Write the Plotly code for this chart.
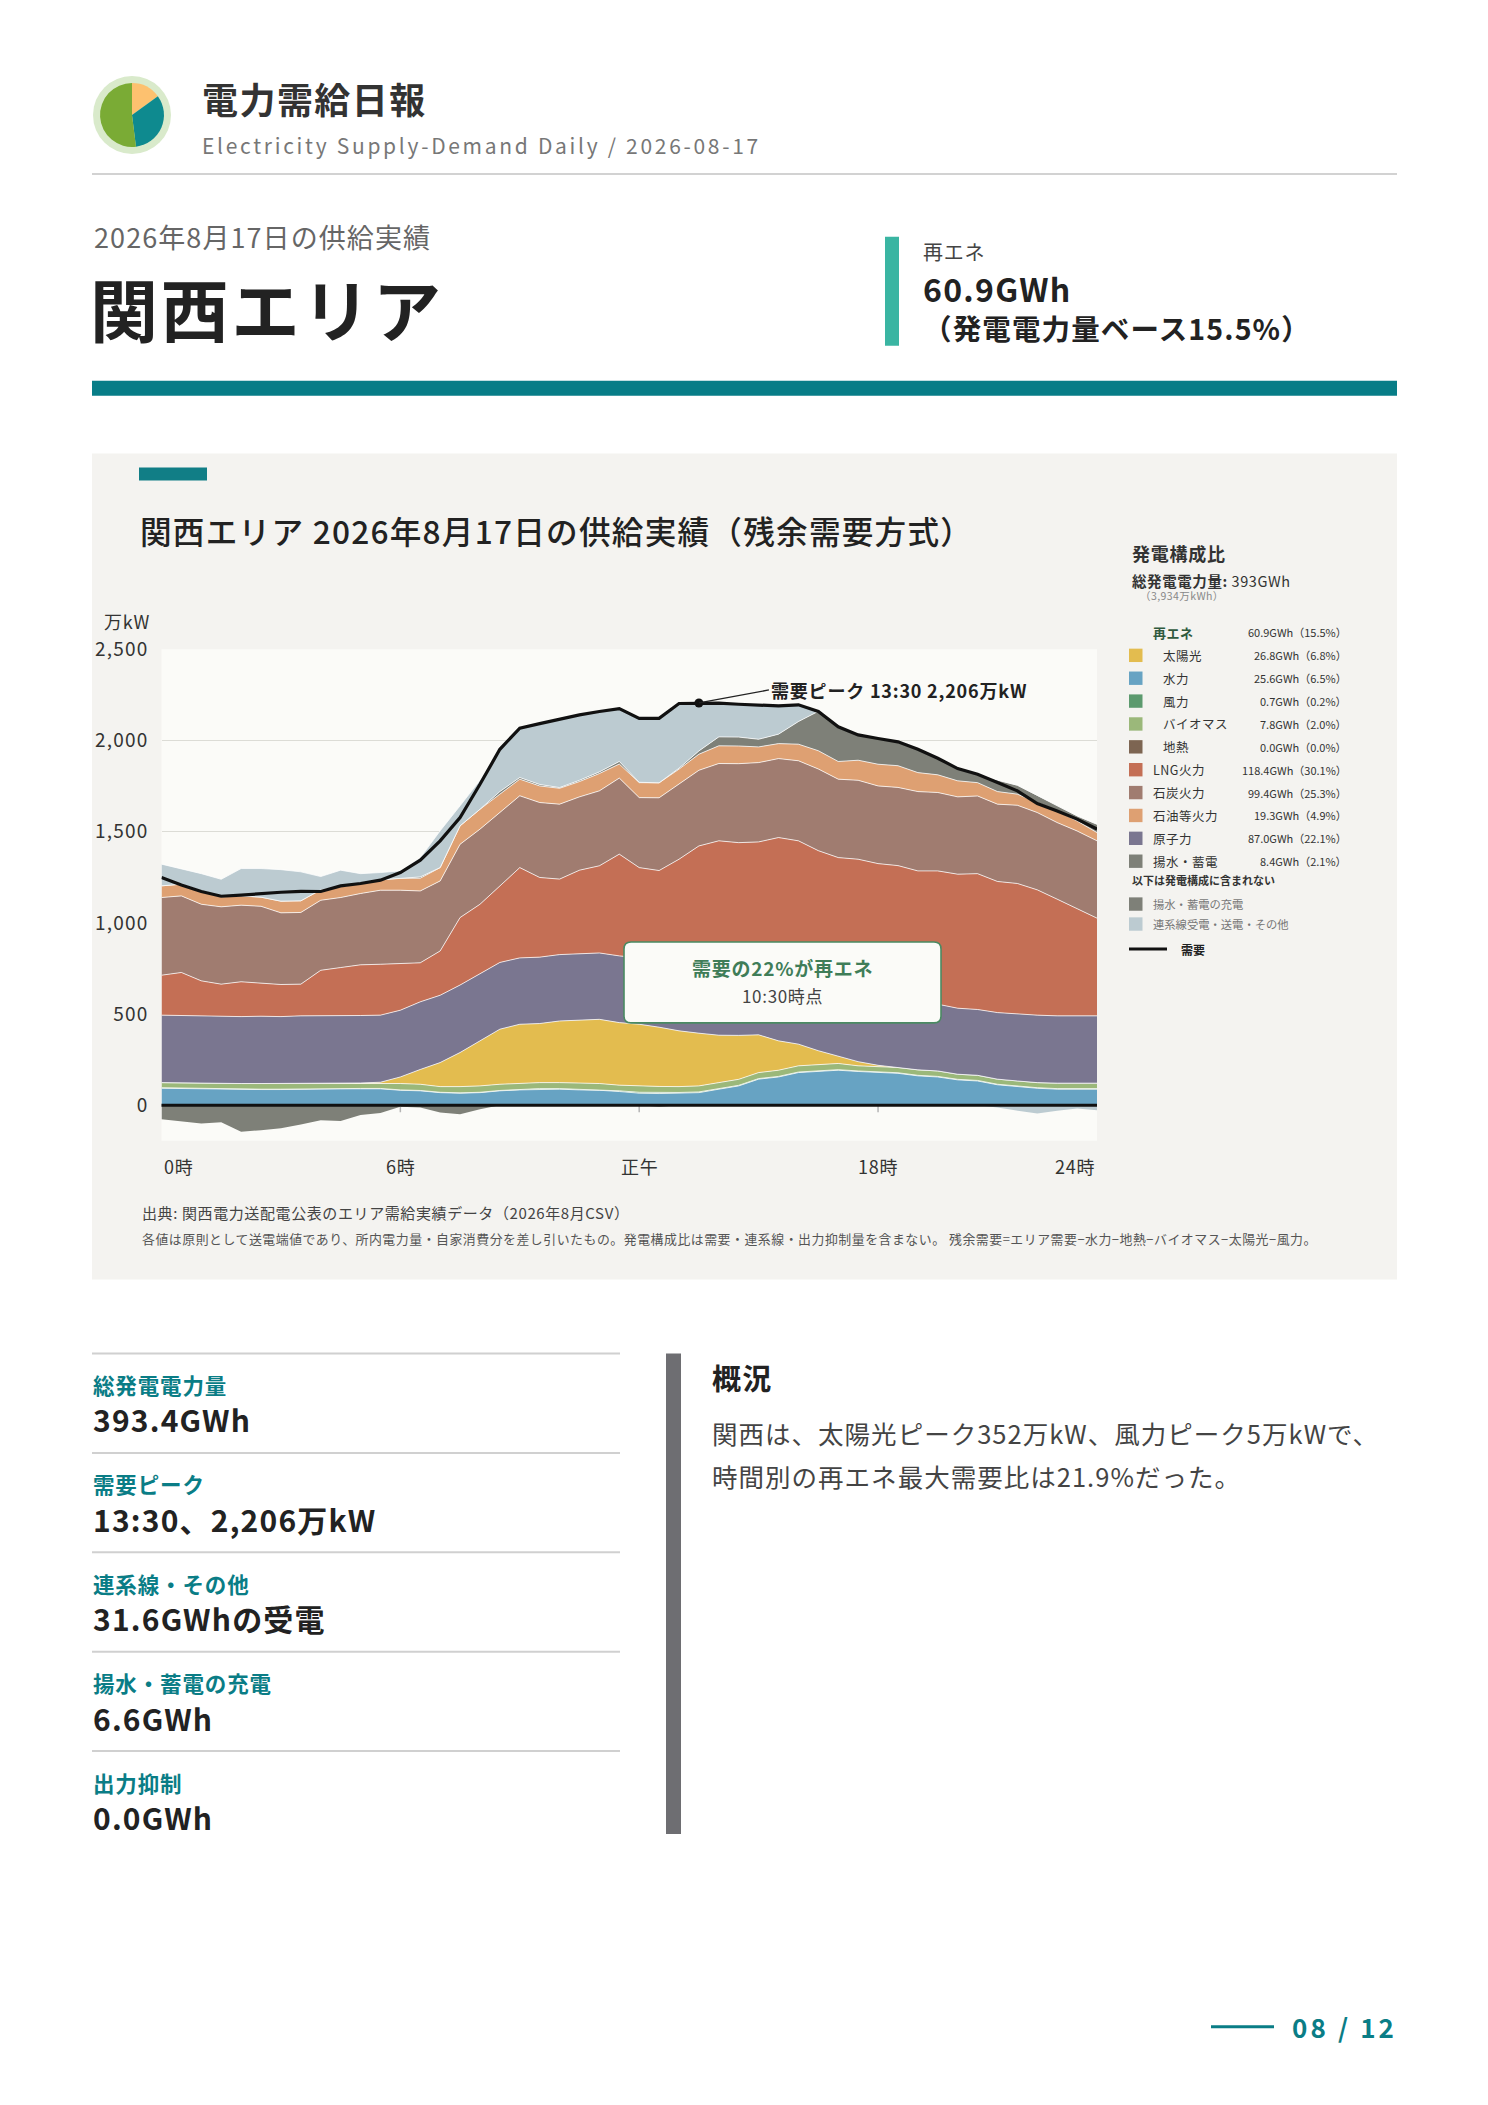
import plotly.graph_objects as go

W, H = 1488, 2105
FONT = "Noto Sans CJK JP"

# --- data (万kW, 30-min steps) ---
hours = [0, 0.5, 1, 1.5, 2, 2.5, 3, 3.5, 4, 4.5, 5, 5.5,
         6, 6.5, 7, 7.5, 8, 8.5, 9, 9.5, 10, 10.5, 11, 11.5,
         12, 12.5, 13, 13.5, 14, 14.5, 15, 15.5, 16, 16.5, 17, 17.5,
         18, 18.5, 19, 19.5, 20, 20.5, 21, 21.5, 22, 22.5, 23, 23.5]

hydro = [93, 91, 88, 86, 86, 86, 86, 88, 90, 90, 90, 90,
         82, 79, 69, 66, 69, 79, 84, 88, 88, 84, 82, 75,
         66, 64, 66, 69, 88, 106, 143, 155, 179, 185, 192, 185,
         179, 175, 161, 155, 139, 133, 112, 102, 93, 88, 88, 88]
wind = [3, 3, 3, 2, 2, 2, 2, 2, 2, 2, 2, 2,
        2, 2, 2, 2, 2, 2, 3, 3, 3, 3, 4, 4,
        5, 5, 4, 4, 4, 3, 3, 3, 3, 3, 3, 3,
        3, 3, 3, 3, 3, 3, 3, 3, 3, 3, 3, 3]
biomass = [28, 28, 30, 31, 31, 31, 31, 31, 30, 30, 30, 30,
           35, 34, 31, 34, 35, 34, 34, 33, 33, 34, 33, 31,
           34, 34, 32, 33, 32, 33, 33, 34, 34, 34, 34, 28,
           30, 29, 30, 30, 28, 28, 28, 28, 28, 30, 30, 30]
solar = [0, 0, 0, 0, 0, 0, 0, 0, 0, 0, 0, 4,
         36, 81, 132, 187, 247, 302, 323, 324, 338, 347, 352, 343,
         339, 325, 306, 289, 260, 241, 207, 161, 119, 77, 42, 23,
         7, 1, 0, 0, 0, 0, 0, 0, 0, 0, 0, 0]
nuclear = [370, 370, 367, 365, 367, 369, 367, 369, 370, 370, 370, 368,
           366, 371, 369, 370, 369, 366, 364, 364, 364, 364, 364, 366,
           365, 369, 369, 370, 370, 370, 369, 369, 369, 369, 369, 370,
           371, 369, 369, 366, 362, 361, 365, 366, 370, 369, 369, 369]
lng = [219, 236, 194, 180, 191, 183, 176, 174, 248, 263, 278, 279,
       256, 214, 243, 370, 380, 420, 495, 437, 414, 457, 478, 558,
       494, 490, 572, 657, 696, 687, 689, 746, 746, 728, 718, 740,
       735, 737, 722, 731, 735, 745, 719, 717, 687, 640, 590, 536]
coal = [426, 420, 420, 424, 420, 420, 393, 393, 384, 384, 391, 406,
        402, 394, 384, 402, 412, 402, 394, 411, 411, 402, 411, 417,
        384, 399, 411, 415, 424, 433, 435, 433, 439, 448, 430, 433,
        426, 429, 435, 430, 424, 426, 424, 429, 424, 420, 424, 424]
oil = [64, 64, 73, 55, 51, 50, 64, 64, 57, 58, 55, 57,
       66, 70, 73, 101, 109, 101, 91, 91, 87, 84, 95, 77,
       82, 82, 83, 88, 97, 97, 86, 82, 91, 100, 97, 110,
       119, 119, 104, 97, 88, 73, 69, 61, 55, 64, 55, 45]
pumped = [0, 0, 0, 0, 0, 0, 0, 0, 0, 0, 0, 0,
          0, 7, 0, 0, 0, 14, 9, 8, 4, 7, 9, 14,
          2, 0, 5, 18, 49, 49, 42, 52, 124, 216, 190, 139,
          141, 132, 128, 91, 67, 45, 63, 49, 40, 31, 28, 46]
ic_recv = [119, 86, 95, 96, 150, 157, 173, 159, 73, 92, 54, 40,
           40, 105, 202, 110, 159, 232, 271, 334, 375, 359, 331, 287,
           353, 364, 355, 265, 185, 179, 187, 155, 92, 0, 0, 0,
           0, 0, 0, 0, 0, 0, 0, 0, 0, 0, 0, 0]
charge = [-77, -90, -100, -93, -146, -137, -126, -106, -82, -86, -54, -42,
          -9, -13, -40, -49, -22, 0, 0, 0, 0, 0, 0, 0,
          0, -8, 0, 0, 0, 0, 0, 0, 0, 0, 0, 0,
          0, 0, 0, 0, 0, 0, 0, 0, 0, 0, 0, 0]
ic_send = [0, 0, 0, 0, 0, 0, 0, 0, 0, 0, 0, 0,
           0, 0, 0, 0, 0, 0, 0, 0, 0, 0, 0, 0,
           0, 0, 0, 0, 0, 0, 0, 0, 0, 0, 0, 0,
           0, 0, 0, 0, 0, 0, -13, -31, -46, -31, -18, -27]
demand = [1249, 1208, 1172, 1146, 1152, 1161, 1168, 1173, 1172, 1203, 1216, 1234,
          1276, 1344, 1450, 1578, 1760, 1952, 2068, 2093, 2117, 2141, 2159, 2175,
          2121, 2122, 2203, 2206, 2205, 2199, 2194, 2190, 2196, 2159, 2075, 2031,
          2011, 1993, 1952, 1903, 1846, 1815, 1770, 1724, 1654, 1614, 1569, 1514]

y_ticks = [0, 500, 1000, 1500, 2000, 2500]
x_ticks = [0, 6, 12, 18, 23.5]
x_ticktext = ["0時", "6時", "正午", "18時", "24時"]

legend_names = ["太陽光", "水力", "風力", "バイオマス", "地熱",
                "LNG火力", "石炭火力", "石油等火力", "原子力", "揚水・蓄電"]
legend_gwh = [26.8, 25.6, 0.7, 7.8, 0.0, 118.4, 99.4, 19.3, 87.0, 8.4]
legend_pct = [6.8, 6.5, 0.2, 2.0, 0.0, 30.1, 25.3, 4.9, 22.1, 2.1]
legend_indent = [True, True, True, True, True, False, False, False, False, False]

summary_labels = ["総発電電力量", "需要ピーク", "連系線・その他", "揚水・蓄電の充電", "出力抑制"]
summary_values = ["393.4GWh", "13:30、2,206万kW", "31.6GWhの受電", "6.6GWh", "0.0GWh"]

logo_shares = [15, 33, 52]

C = {
    "太陽光": "#e3bc4f", "水力": "#67a3c3", "風力": "#5c9a6e", "バイオマス": "#9bb87a",
    "地熱": "#7d6552", "LNG火力": "#c46f55", "石炭火力": "#a07c70", "石油等火力": "#dea072",
    "原子力": "#7a7690", "揚水・蓄電": "#7e8078", "連系線": "#bccbd1",
}
TEAL = "#0a7d86"


def X(px):
    return px / W


def Y(py):
    # page layout y (px from top) -> paper coords, with a small vertical calibration
    return 1 - (1.006 * py - 16) / H


def sp(text, px):
    return f'<span style="letter-spacing:{px:.2f}px">{text}</span>'


shapes = []
annotations = []


def rect(x0, y0, x1, y1, color, layer="below"):
    shapes.append(dict(type="rect", xref="paper", yref="paper",
                       x0=X(x0), x1=X(x1), y0=Y(y1), y1=Y(y0),
                       fillcolor=color, line_width=0, layer=layer))


def hline(x0, x1, y, color, width):
    shapes.append(dict(type="line", xref="paper", yref="paper",
                       x0=X(x0), x1=X(x1), y0=Y(y), y1=Y(y),
                       line=dict(color=color, width=width), layer="below"))


def label(x, y, text, size, color="#222", anchor="left", weight=None, ls=0.04):
    f = dict(size=size, color=color, family=FONT)
    if weight:
        f["weight"] = weight
    if ls:
        text = sp(text, ls * size)
    annotations.append(dict(xref="paper", yref="paper", x=X(x), y=Y(y), text=text,
                            showarrow=False, xanchor=anchor, yanchor="middle", font=f))


fig = go.Figure()

# stacked areas (positive)
pos_layers = [("水力", hydro), ("風力", wind), ("バイオマス", biomass), ("太陽光", solar),
              ("原子力", nuclear), ("LNG火力", lng), ("石炭火力", coal), ("石油等火力", oil),
              ("揚水・蓄電", pumped), ("連系線", ic_recv)]
for name, vals in pos_layers:
    fig.add_trace(go.Scatter(
        x=hours, y=vals, name=name, stackgroup="pos", mode="lines",
        line=dict(color="rgba(255,255,255,0.75)", width=1),
        fillcolor=C[name], hoverinfo="skip", showlegend=False,
    ))

# stacked areas (negative)
for name, vals, col in [("揚水・蓄電の充電", charge, C["揚水・蓄電"]), ("連系線送電", ic_send, C["連系線"])]:
    fig.add_trace(go.Scatter(
        x=hours, y=vals, name=name, stackgroup="neg", mode="lines",
        line=dict(width=0), fillcolor=col, hoverinfo="skip", showlegend=False,
    ))

fig.add_trace(go.Scatter(x=hours, y=demand, mode="lines", line=dict(color="#111", width=3.2),
                         hoverinfo="skip", showlegend=False))

peak_i = demand.index(max(demand))
fig.add_trace(go.Scatter(x=[hours[peak_i]], y=[demand[peak_i]], mode="markers",
                         marker=dict(color="#111", size=9), hoverinfo="skip", showlegend=False))

# logo pie
fig.add_trace(go.Pie(values=logo_shares, sort=False, direction="clockwise", rotation=0,
                     marker=dict(colors=["#fdc16f", "#0e8a8f", "#7aab35"], line=dict(width=0)),
                     textinfo="none", hoverinfo="skip", showlegend=False,
                     domain=dict(x=[X(132 - 32), X(132 + 32)], y=[Y(116 + 32), Y(116 - 32)])))
shapes.append(dict(type="circle", xref="paper", yref="paper", x0=X(132 - 39), x1=X(132 + 39),
                   y0=Y(116 + 39), y1=Y(116 - 39), fillcolor="#d9eacb", line_width=0, layer="below"))

# header
label(200, 99, "<b>電力需給日報</b>", 36, "#333")
label(200, 146, sp("Electricity Supply-Demand Daily / 2026-08-17", 2.7), 21, "#777", ls=0)
hline(92, 1397, 175, "#d2d2d2", 2)
label(92, 238, "2026年8月17日の供給実績", 27, "#666")
label(88, 309, "<b>関西エリア</b>", 68, "#222")
rect(885, 238, 899, 347, "#3ab5a2")
label(921, 253, "再エネ", 20, "#444")
label(921, 289, "<b>60.9GWh</b>", 32, "#222")
label(921, 329, "<b>（発電電力量ベース15.5%）</b>", 28.5, "#222")
rect(92, 382, 1397, 397, "#077d87")

# chart panel
rect(92, 455, 1397, 1282, "#f4f3f0")
rect(161.5, 651, 1097, 1143, "#fbfbf8")
rect(139, 469, 207, 482, "#117e86")
label(138, 532, "関西エリア 2026年8月17日の供給実績（残余需要方式）", 31.6, "#222", weight=500)
label(102, 623, "万kW", 18, "#333")

for xv, xt in zip(x_ticks, x_ticktext):
    anchor = "left" if xv == x_ticks[0] else ("right" if xv == x_ticks[-1] else "center")
    annotations.append(dict(xref="x", yref="paper", x=xv, y=Y(1168), text=sp(xt, 0.7), showarrow=False,
                            xanchor=anchor, yanchor="middle", font=dict(size=18, color="#333", family=FONT)))
    if xv not in (x_ticks[0], x_ticks[-1]):
        shapes.append(dict(type="line", xref="x", yref="y", x0=xv, x1=xv, y0=0, y1=-38,
                           line=dict(color="#b5b5b5", width=1.5), layer="above"))

shapes.append(dict(type="line", xref="x domain", yref="y", x0=0, x1=1, y0=0, y1=0,
                   line=dict(color="#111", width=3), layer="above"))

annotations.append(dict(xref="x", yref="y", x=hours[peak_i], y=demand[peak_i],
                        text=sp("<b>需要ピーク 13:30 2,206万kW</b>", 0.8), showarrow=True, arrowhead=0,
                        arrowwidth=1.3, arrowcolor="#222", ax=70, ay=-13, xanchor="left",
                        font=dict(size=18, color="#222", family=FONT)))

# callout box (rounded)
bx0, by0, bx1, by1, r = 624, 944, 941, 1025, 7
rx, ry = r / W, r / H
path = (f"M {X(bx0)+rx},{Y(by0)} L {X(bx1)-rx},{Y(by0)} Q {X(bx1)},{Y(by0)} {X(bx1)},{Y(by0)-ry} "
        f"L {X(bx1)},{Y(by1)+ry} Q {X(bx1)},{Y(by1)} {X(bx1)-rx},{Y(by1)} "
        f"L {X(bx0)+rx},{Y(by1)} Q {X(bx0)},{Y(by1)} {X(bx0)},{Y(by1)+ry} "
        f"L {X(bx0)},{Y(by0)-ry} Q {X(bx0)},{Y(by0)} {X(bx0)+rx},{Y(by0)} Z")
shapes.append(dict(type="path", xref="paper", yref="paper", path=path, fillcolor="#fbfbf8",
                   line=dict(color="#4a8a62", width=1.6), layer="above"))
label(782, 970, "<b>需要の22%が再エネ</b>", 19, "#3f7d58", "center")
label(782, 998, "10:30時点", 17, "#444", "center")

label(140, 1215, "出典: 関西電力送配電公表のエリア需給実績データ（2026年8月CSV）", 15, "#444")
label(140, 1241, "各値は原則として送電端値であり、所内電力量・自家消費分を差し引いたもの。発電構成比は需要・連系線・出力抑制量を含まない。 "
      "残余需要=エリア需要−水力−地熱−バイオマス−太陽光−風力。", 12.9, "#555")

# composition legend
label(1130, 555, "<b>発電構成比</b>", 18, "#333")
label(1130, 582, "<b>総発電電力量:</b> 393GWh", 14.5, "#333")
label(1138, 597, "（3,934万kWh）", 10.5, "#888")
label(1151, 634, "<b>再エネ</b>", 13, "#2f5a3e")
label(1349, 634, "60.9GWh（15.5%）", 11, "#333", "right", ls=0)
for i, (nm, g, p, ind) in enumerate(zip(legend_names, legend_gwh, legend_pct, legend_indent)):
    yy = 657 + i * 22.9
    rect(1129, yy - 6.7, 1142.5, yy + 6.7, C[nm], layer="above")
    label(1161 if ind else 1151, yy, nm, 12.5, "#333")
    label(1349, yy, f"{g:.1f}GWh（{p:.1f}%）", 11, "#333", "right", ls=0)
label(1130, 882, "<b>以下は発電構成に含まれない</b>", 11, "#333", ls=0)
for yy, nm, col in [(906, "揚水・蓄電の充電", C["揚水・蓄電"]), (926, "連系線受電・送電・その他", C["連系線"])]:
    rect(1129, yy - 6.7, 1142.5, yy + 6.7, col, layer="above")
    label(1151, yy, nm, 11.3, "#777", ls=0)
shapes.append(dict(type="line", xref="paper", yref="paper", x0=X(1129), x1=X(1167), y0=Y(951), y1=Y(951),
                   line=dict(color="#111", width=3), layer="above"))
label(1179, 951, "<b>需要</b>", 12, "#222", ls=0)

# summary column
for i, (lb, vl) in enumerate(zip(summary_labels, summary_values)):
    y0 = 1356 + i * 99.5
    hline(92, 620, y0, "#d0d0d0", 2)
    label(91, y0 + 31, f"<b>{lb}</b>", 21.5, TEAL)
    label(91, y0 + 66, f"<b>{vl}</b>", 30, "#222")

rect(666, 1356, 681, 1837, "#6e6e72")
label(710, 1379, "<b>概況</b>", 29, "#222")
label(710, 1435, "関西は、太陽光ピーク352万kW、風力ピーク5万kWで、", 25.5, "#444")
label(710, 1478, "時間別の再エネ最大需要比は21.9%だった。", 25.5, "#444")

# footer
hline(1211, 1274, 2030, TEAL, 3)
label(1290, 2030, "<b>08 / 12</b>", 26, TEAL, ls=0.12)

fig.update_layout(
    width=W, height=H, margin=dict(l=0, r=0, t=0, b=0),
    paper_bgcolor="white", plot_bgcolor="rgba(0,0,0,0)",
    font=dict(family=FONT, color="#333"),
    shapes=shapes, annotations=annotations, showlegend=False,
    xaxis=dict(domain=[X(161.5), X(1097)], range=[0, 23.5], showticklabels=False,
               showgrid=False, zeroline=False, showline=False, fixedrange=True),
    yaxis=dict(domain=[Y(1143), Y(651)], range=[-195, 2500], tickvals=y_ticks,
               ticktext=[sp(f"{v:,}", 1.2) for v in y_ticks], tickfont=dict(size=19, color="#333"),
               gridcolor="#dcdcd6", gridwidth=1, zeroline=False, showline=False,
               ticks="", ticklabelstandoff=12, fixedrange=True),
)

# pin the figure to the page corner so it lines up with the 1488x2105 window
pin = ("document.body.style.margin='0';document.body.style.overflow='hidden';"
       "var gd=document.getElementById('{plot_id}');gd.style.position='absolute';"
       "gd.style.left='0px';gd.style.top='0px';")
fig.write_html("out.html", post_script=pin, config={"displayModeBar": False})
